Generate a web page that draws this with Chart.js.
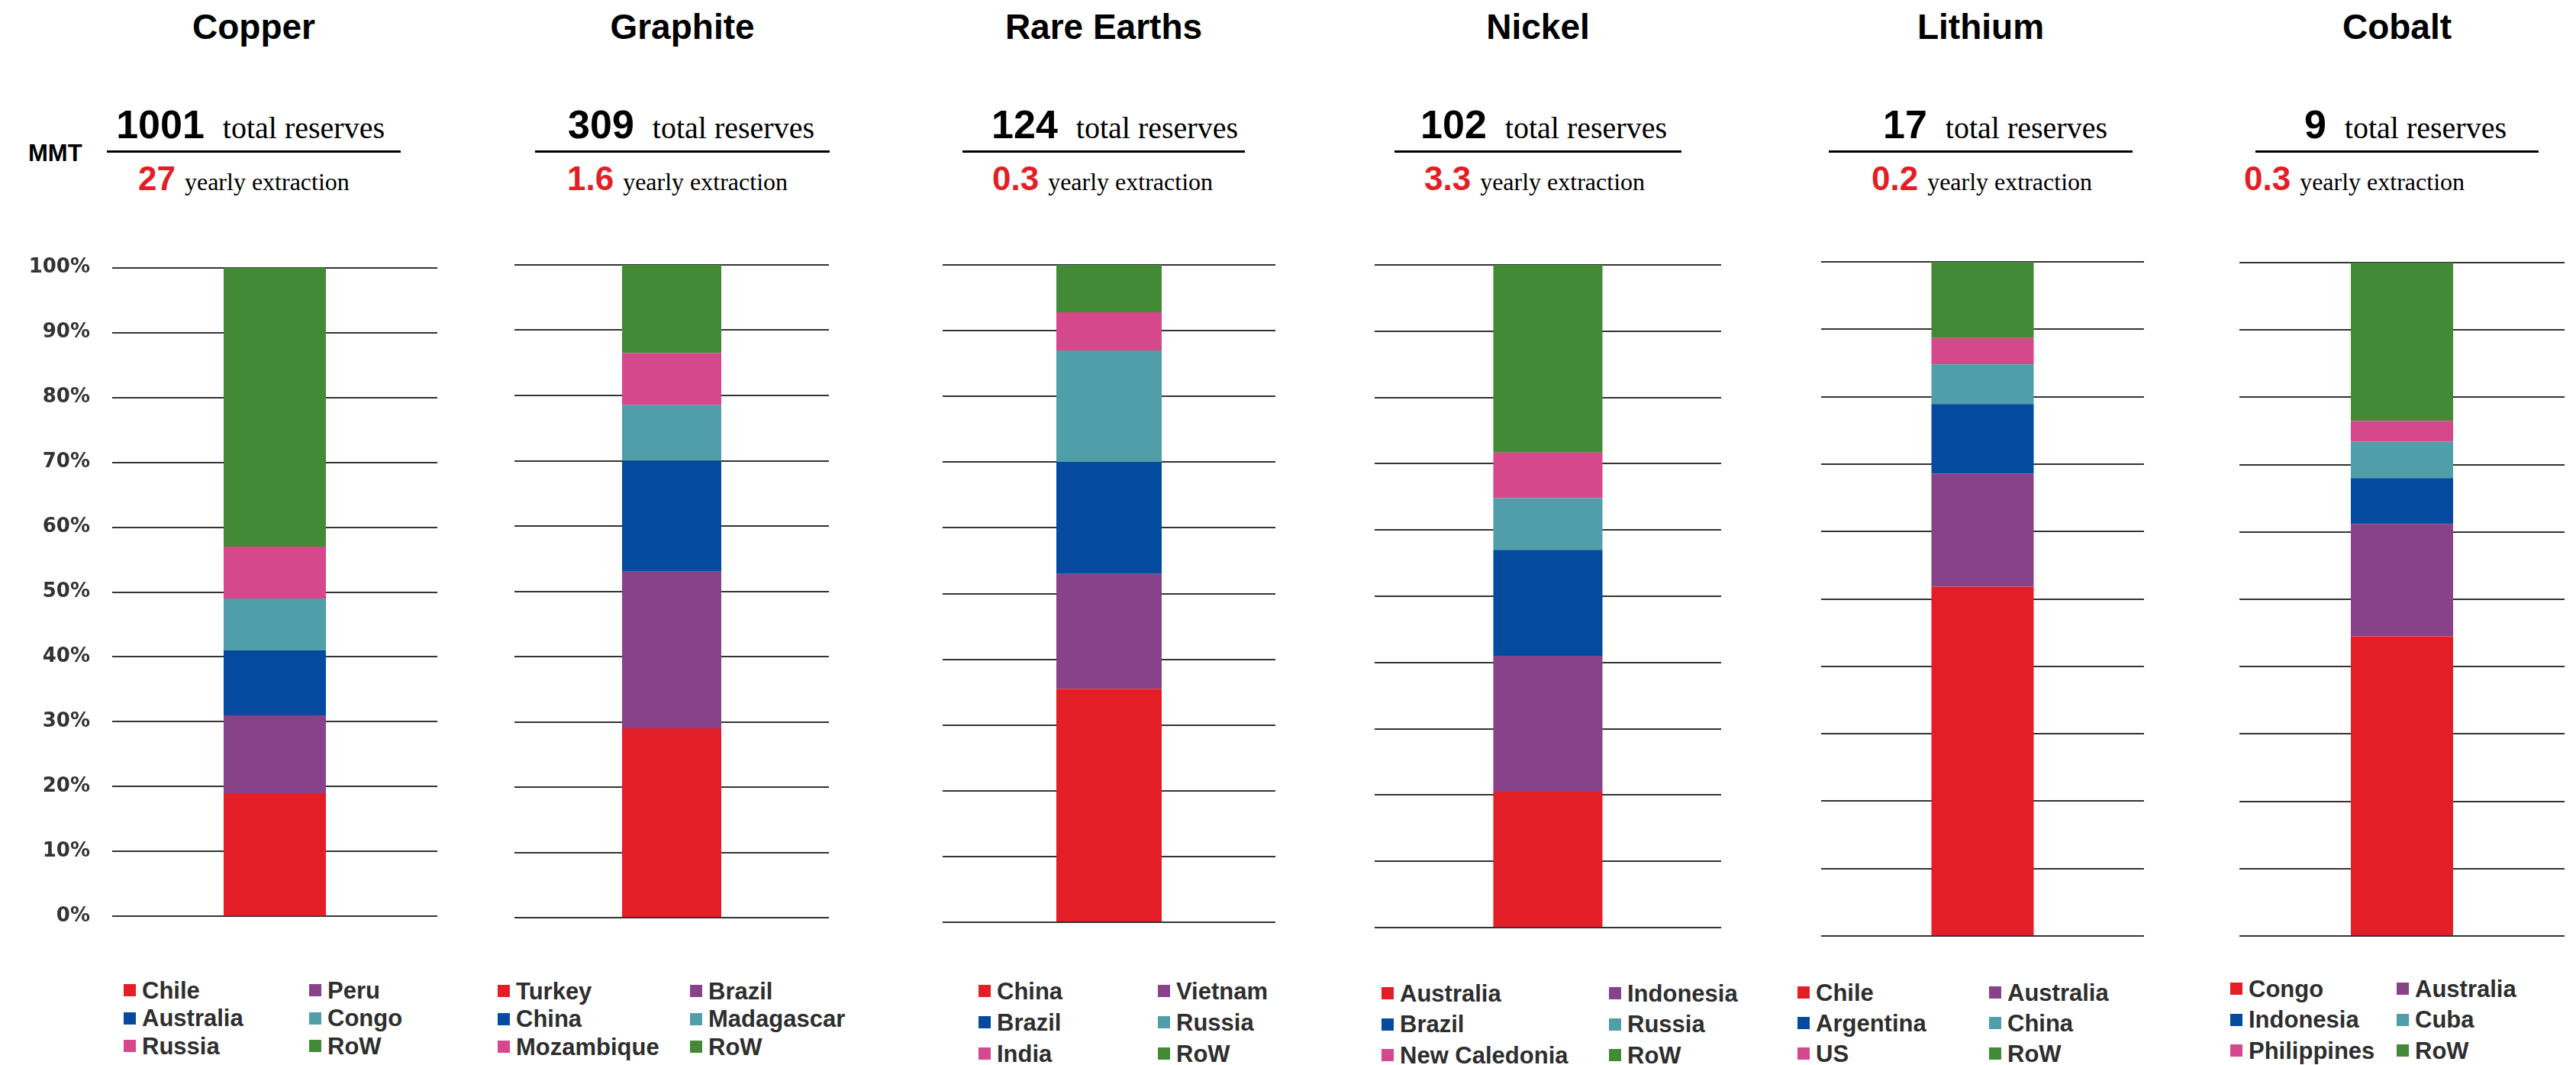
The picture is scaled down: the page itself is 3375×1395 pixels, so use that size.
<!DOCTYPE html>
<html>
<head>
<meta charset="utf-8">
<script src="https://cdn.jsdelivr.net/npm/chart.js@4.4.0/dist/chart.umd.min.js"></script>
<style>
  html, body { margin:0; padding:0; background:#fff; }
  body { width:3375px; height:1395px; position:relative; overflow:hidden; }
  canvas { position:absolute; }
</style>
</head>
<body>
<script>
// ---------- DATA ----------
const materials = ['Copper', 'Graphite', 'Rare Earths', 'Nickel', 'Lithium', 'Cobalt'];
const totalReserves = ['1001', '309', '124', '102', '17', '9'];
const yearlyExtraction = ['27', '1.6', '0.3', '3.3', '0.2', '0.3'];
const yTickLabels = ['0%', '10%', '20%', '30%', '40%', '50%', '60%', '70%', '80%', '90%', '100%'];

const copperCountries = ['Chile', 'Peru', 'Australia', 'Congo', 'Russia', 'RoW'];
const copperShares = [19, 12, 10, 8, 8, 43];
const graphiteCountries = ['Turkey', 'Brazil', 'China', 'Madagascar', 'Mozambique', 'RoW'];
const graphiteShares = [29, 24, 17, 8.5, 8, 13.5];
const rareEarthCountries = ['China', 'Vietnam', 'Brazil', 'Russia', 'India', 'RoW'];
const rareEarthShares = [35.5, 17.5, 17, 17, 5.8, 7.2];
const nickelCountries = ['Australia', 'Indonesia', 'Brazil', 'Russia', 'New Caledonia', 'RoW'];
const nickelShares = [20.5, 20.5, 16, 7.8, 6.9, 28.3];
const lithiumCountries = ['Chile', 'Australia', 'Argentina', 'China', 'US', 'RoW'];
const lithiumShares = [51.8, 16.8, 10.3, 5.9, 3.9, 11.3];
const cobaltCountries = ['Congo', 'Australia', 'Indonesia', 'Cuba', 'Philippines', 'RoW'];
const cobaltShares = [44.5, 16.7, 6.8, 5.4, 3.1, 23.5];

const countryLists = [copperCountries, graphiteCountries, rareEarthCountries, nickelCountries, lithiumCountries, cobaltCountries];
const shareLists = [copperShares, graphiteShares, rareEarthShares, nickelShares, lithiumShares, cobaltShares];

// ---------- STYLE / LAYOUT ----------
const seriesColors = ['#E41E26', '#88428A', '#044BA0', '#509EAA', '#D5488C', '#428A35'];
const RED = '#E41E26';
const SANS = "'Liberation Sans', Arial, sans-serif";
const SERIF = "'Liberation Serif', 'Times New Roman', serif";
const TICKFONT = "'DejaVu Sans'";

const layout = [
  {plotL:147,  plotR:573,  top:346, bottom:1205, barW:134, lineL:140,  lineR:525,  topRight:504,  botLeft:181,  legL1:162,  legL2:405,  legY:1297, legDY:36.5},
  {plotL:674,  plotR:1086, top:347, bottom:1202, barW:130, lineL:701,  lineR:1087, topRight:1067, botLeft:743,  legL1:652,  legL2:904,  legY:1298, legDY:36.5},
  {plotL:1235, plotR:1671, top:347, bottom:1208, barW:138, lineL:1261, lineR:1631, topRight:1622, botLeft:1300, legL1:1282, legL2:1517, legY:1298, legDY:41},
  {plotL:1801, plotR:2255, top:347, bottom:1215, barW:143, lineL:1827, lineR:2203, topRight:2184, botLeft:1866, legL1:1810, legL2:2108, legY:1301, legDY:40.5},
  {plotL:2386, plotR:2809, top:343, bottom:1226, barW:134, lineL:2396, lineR:2794, topRight:2761, botLeft:2452, legL1:2355, legL2:2606, legY:1300, legDY:40},
  {plotL:2934, plotR:3360, top:344, bottom:1226, barW:134, lineL:2955, lineR:3326, topRight:3284, botLeft:2940, legL1:2922, legL2:3140, legY:1295, legDY:40.5}
];

// ---------- TEXT HELPERS ----------
const mctx = document.createElement('canvas').getContext('2d');
function tw(text, font) { mctx.font = font; return mctx.measureText(text).width; }
function place(text, x, baseline, family, size, weight, color, align) {
  const font = `${weight} ${size}px ${family}`;
  const w = tw(text, font);
  const left = align === 'right' ? x - w : (align === 'center' ? x - w / 2 : x);
  const off = family === SERIF ? 0.8375 : 0.8465;
  const el = document.createElement('div');
  el.textContent = text;
  el.style.cssText = `position:absolute;left:${left}px;top:${baseline - off * size}px;font:${font};line-height:${size}px;color:${color};white-space:nowrap;`;
  document.body.appendChild(el);
  return w;
}
function box(left, top, w, h, color) {
  const el = document.createElement('div');
  el.style.cssText = `position:absolute;left:${left}px;top:${top}px;width:${w}px;height:${h}px;background:${color};`;
  document.body.appendChild(el);
}

// MMT label
place('MMT', 37, 211, SANS, 31, 'bold', '#000', 'left');

materials.forEach((name, i) => {
  const L = layout[i];
  // Title
  place(name, (L.lineL + L.lineR) / 2, 51, SANS, 46, 'bold', '#000', 'center');
  // Total reserves row (right aligned)
  const wTot = tw('total reserves', `normal 40px ${SERIF}`);
  place('total reserves', L.topRight, 181, SERIF, 40, 'normal', '#000', 'right');
  place(totalReserves[i], L.topRight - wTot - 24, 181, SANS, 52, 'bold', '#000', 'right');
  // divider
  box(L.lineL, 196.5, L.lineR - L.lineL, 3, '#000');
  // yearly extraction row
  const wNum = place(yearlyExtraction[i], L.botLeft, 249, SANS, 44, 'bold', RED, 'left');
  place('yearly extraction', L.botLeft + wNum + 12, 249, SERIF, 32, 'normal', '#000', 'left');

  // Chart
  const padX = 10, padY = 40;
  const first = i === 0;
  const cv = document.createElement('canvas');
  const cLeft = first ? 0 : L.plotL - padX;
  const cW = first ? L.plotR + padX : (L.plotR - L.plotL + 2 * padX);
  const cTop = L.top - padY;
  const cH = L.bottom - L.top + 2 * padY;
  cv.width = cW; cv.height = cH;
  cv.style.left = cLeft + 'px'; cv.style.top = cTop + 'px';
  cv.style.width = cW + 'px'; cv.style.height = cH + 'px';
  document.body.appendChild(cv);

  const countries = countryLists[i];
  const shares = shareLists[i];
  new Chart(cv, {
    type: 'bar',
    data: {
      labels: [name],
      datasets: countries.map((c, j) => ({
        label: c,
        data: [shares[j]],
        backgroundColor: seriesColors[j],
        borderWidth: 0,
        barPercentage: L.barW / (L.plotR - L.plotL),
        categoryPercentage: 1
      }))
    },
    options: {
      responsive: false,
      maintainAspectRatio: false,
      animation: false,
      layout: { padding: { left: first ? 0 : padX, right: padX, top: padY, bottom: padY } },
      plugins: { legend: { display: false }, tooltip: { enabled: false } },
      scales: {
        x: { stacked: true, display: false },
        y: {
          stacked: true, min: 0, max: 100,
          border: { display: false },
          grid: { color: '#333333', lineWidth: 2, drawTicks: false },
          ticks: {
            display: first, stepSize: 10, padding: 29,
            color: '#333', font: { family: TICKFONT, size: 26, weight: 'bold' },
            callback: (v) => yTickLabels[Math.round(v / 10)]
          },
          afterFit: (s) => { s.width = first ? L.plotL : 0; }
        }
      }
    }
  });

  // HTML legend built from the chart's series
  countries.forEach((c, j) => {
    const col = j % 2, row = Math.floor(j / 2);
    const x = col ? L.legL2 : L.legL1;
    const yc = L.legY + row * L.legDY;
    box(x, yc - 8, 16, 16, seriesColors[j]);
    place(c, x + 24, yc + 11, SANS, 31, 'bold', '#2e2e2e', 'left');
  });
});
</script>
</body>
</html>
